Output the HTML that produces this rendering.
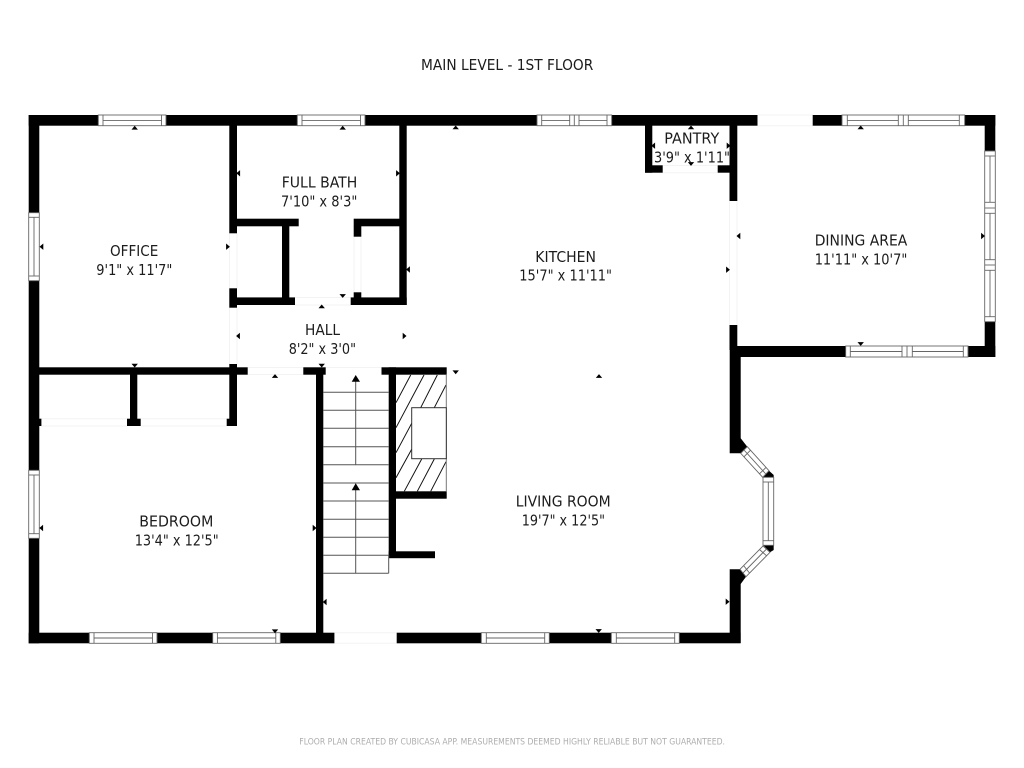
<!DOCTYPE html>
<html><head><meta charset="utf-8"><style>
html,body{margin:0;padding:0;background:#fff;width:1024px;height:768px;overflow:hidden}
svg{display:block}
text{font-family:"DejaVu Sans","Liberation Sans",sans-serif;font-size:15px;fill:#1c1c1c;}
.w rect{fill:#fff;stroke:#666;stroke-width:.9}
.w line{stroke:#666;stroke-width:.9}
.gap{stroke:#f3f3f3;stroke-width:1;fill:none}
</style></head><body>
<svg width="1024" height="768" viewBox="0 0 1024 768" xmlns="http://www.w3.org/2000/svg">
<defs>
<polygon id="u" points="-3.2,1.6 3.2,1.6 0,-2.2" fill="#000"/>
<polygon id="d" points="-3.2,-1.6 3.2,-1.6 0,2.2" fill="#000"/>
<polygon id="l" points="1.6,-3.2 1.6,3.2 -2.2,0" fill="#000"/>
<polygon id="r" points="-1.6,-3.2 -1.6,3.2 2.2,0" fill="#000"/>
</defs>
<rect width="1024" height="768" fill="#fff"/>

<!-- door gap lines -->
<g class="gap">
<path d="M229.5 233.5V288.5M237 233.5V288.5"/>
<path d="M229.5 307.5V364.5M237 307.5V364.5"/>
<path d="M295 297.5H351M295 305H351"/>
<path d="M354 236.5V292.5M361 236.5V292.5"/>
<path d="M247.5 367.5H303.5M247.5 374.5H303.5"/>
<path d="M325.5 367.5H381.5"/>
<path d="M41 418.7H127M41 426H127M141 418.7H227M141 426H227"/>
<path d="M662.5 165.5H717.5M662.5 172.7H717.5"/>
<path d="M729.5 201V325M737 201V325"/>
<path d="M757.5 115H813M757.5 125.7H813"/>
<path d="M334.5 632.7H396.7M334.5 643.3H396.7"/>
</g>

<!-- walls -->
<g fill="#000">
<rect x="28.7" y="115" width="728.8" height="10.7"/>
<rect x="812.7" y="115" width="182.6" height="10.7"/>
<rect x="28.7" y="115" width="10.6" height="528.3"/>
<rect x="28.7" y="632.7" width="305.7" height="10.6"/>
<rect x="396.7" y="632.7" width="343.9" height="10.6"/>
<rect x="984.7" y="115" width="10.6" height="242"/>
<rect x="730" y="346" width="265.3" height="11"/>
<rect x="729.5" y="115" width="7.8" height="86"/>
<rect x="729.5" y="325" width="7.8" height="25"/>
<polygon points="729.7,346 740.7,346 740.7,438.3 747.3,446.7 740.7,453.3 729.7,453.3"/>
<polygon points="729.7,569.3 740.7,569.3 746,576.7 740.7,584 740.7,643 729.7,643"/>
<polygon points="769,470.7 773.7,475 773.7,478 762.7,478"/>
<polygon points="763,545 773.7,545 773.7,550 770,552.3"/>
<!-- office/bath partition -->
<rect x="229.3" y="125" width="7.7" height="108.3"/>
<rect x="229.3" y="288.3" width="7.7" height="19.4"/>
<rect x="229.3" y="364" width="7.7" height="62"/>
<rect x="226.7" y="418.7" width="10.3" height="7.3"/>
<rect x="237" y="218.7" width="61.7" height="7.6"/>
<rect x="282" y="226" width="7.3" height="74"/>
<rect x="237" y="297.4" width="58" height="7.6"/>
<rect x="353.7" y="218.7" width="50" height="7.6"/>
<rect x="353.7" y="226" width="7.6" height="10.7"/>
<rect x="353.7" y="292.3" width="7.6" height="12.7"/>
<rect x="350.7" y="297.4" width="56" height="7.6"/>
<rect x="399.3" y="125" width="7.4" height="180"/>
<!-- hall bottom -->
<rect x="39" y="367.3" width="208.7" height="7.4"/>
<rect x="303.3" y="367.3" width="22.4" height="7.4"/>
<rect x="381.5" y="367.3" width="65.2" height="7.4"/>
<rect x="130" y="374" width="7.3" height="45"/>
<rect x="127" y="418.7" width="13.7" height="7.3"/>
<rect x="39" y="418.7" width="2.4" height="7.3"/>
<!-- stair walls -->
<rect x="316" y="374" width="7.3" height="259"/>
<rect x="388.7" y="367.3" width="7.3" height="190.7"/>
<rect x="388.7" y="551.3" width="46.3" height="6.9"/>
<rect x="396" y="491.3" width="50.7" height="7.4"/>
<!-- pantry -->
<rect x="645" y="125" width="7.3" height="47.7"/>
<rect x="645" y="165.3" width="17.7" height="7.4"/>
<rect x="717.7" y="165.3" width="12" height="7.4"/>
</g>

<!-- stairs -->
<g stroke="#555" stroke-width="1" fill="none">
<path d="M323 392.3H388.7M323 410.3H388.7M323 428.3H388.7M323 446.7H388.7M323 464.7H388.7M323 483H388.7M323 501H388.7M323 519.3H388.7M323 537.3H388.7M323 555.3H388.7M323 573.3H388.7M388.7 555V573.3"/>
<path d="M355.7 381V464.7M355.7 490V573.3"/>
</g>
<polygon points="351.7,381.7 360,381.7 355.7,375" fill="#000"/>
<polygon points="351.7,490.3 360,490.3 355.7,483.3" fill="#000"/>

<!-- fireplace -->
<g stroke="#111" stroke-width="1" fill="none">
<path d="M396 402.7L410.7 375M396 427.7L424 375M420.7 407.7L437.3 375M434.3 407.7L446 385M396 452.7L411.7 423.3M396 477.7L411.7 449.3M404.3 491.3L421.7 459M417.3 491.3L434.3 459M430.7 491.3L446 461.7"/>
</g>
<path d="M446.3 374.7V491.3" stroke="#777" stroke-width="1" fill="none"/>
<rect x="411.7" y="407.7" width="34.6" height="51" fill="#fff" stroke="#333" stroke-width="1"/>

<!-- windows -->
<g class="w">
<!-- top -->
<rect x="98.3" y="115" width="67.7" height="10.7"/><line x1="103" y1="115" x2="103" y2="125.7"/><line x1="161.5" y1="115" x2="161.5" y2="125.7"/><line x1="103" y1="120.4" x2="161.5" y2="120.4"/>
<rect x="297.3" y="115" width="67.7" height="10.7"/><line x1="302" y1="115" x2="302" y2="125.7"/><line x1="360.5" y1="115" x2="360.5" y2="125.7"/><line x1="302" y1="120.4" x2="360.5" y2="120.4"/>
<rect x="537" y="115" width="74.7" height="10.7"/><line x1="541.7" y1="115" x2="541.7" y2="125.7"/><line x1="569.7" y1="115" x2="569.7" y2="125.7"/><line x1="574.3" y1="115" x2="574.3" y2="125.7"/><line x1="579" y1="115" x2="579" y2="125.7"/><line x1="607" y1="115" x2="607" y2="125.7"/><line x1="541.7" y1="120.4" x2="569.7" y2="120.4"/><line x1="579" y1="120.4" x2="607" y2="120.4"/>
<rect x="842" y="115" width="122.7" height="10.7"/><line x1="847.3" y1="115" x2="847.3" y2="125.7"/><line x1="898.3" y1="115" x2="898.3" y2="125.7"/><line x1="903.3" y1="115" x2="903.3" y2="125.7"/><line x1="908.3" y1="115" x2="908.3" y2="125.7"/><line x1="959.3" y1="115" x2="959.3" y2="125.7"/><line x1="847.3" y1="120.4" x2="898.3" y2="120.4"/><line x1="908.3" y1="120.4" x2="959.3" y2="120.4"/>
<!-- dining bottom -->
<rect x="845.7" y="346" width="122.3" height="11"/><line x1="850.3" y1="346" x2="850.3" y2="357"/><line x1="902" y1="346" x2="902" y2="357"/><line x1="907" y1="346" x2="907" y2="357"/><line x1="912.3" y1="346" x2="912.3" y2="357"/><line x1="963.3" y1="346" x2="963.3" y2="357"/><line x1="850.3" y1="351.5" x2="902" y2="351.5"/><line x1="912.3" y1="351.5" x2="963.3" y2="351.5"/>
<!-- dining right -->
<rect x="984.7" y="151" width="10.6" height="170.7"/><line x1="984.7" y1="156" x2="995.3" y2="156"/><line x1="984.7" y1="202.3" x2="995.3" y2="202.3"/><line x1="984.7" y1="208" x2="995.3" y2="208"/><line x1="984.7" y1="213.3" x2="995.3" y2="213.3"/><line x1="984.7" y1="259.7" x2="995.3" y2="259.7"/><line x1="984.7" y1="265" x2="995.3" y2="265"/><line x1="984.7" y1="270.3" x2="995.3" y2="270.3"/><line x1="984.7" y1="316.7" x2="995.3" y2="316.7"/><line x1="990" y1="156" x2="990" y2="202.3"/><line x1="990" y1="213.3" x2="990" y2="259.7"/><line x1="990" y1="270.3" x2="990" y2="316.7"/>
<!-- left -->
<rect x="28.7" y="212.7" width="10.6" height="68"/><line x1="28.7" y1="217.3" x2="39.3" y2="217.3"/><line x1="28.7" y1="276" x2="39.3" y2="276"/><line x1="34" y1="217.3" x2="34" y2="276"/>
<rect x="28.7" y="470.3" width="10.6" height="68"/><line x1="28.7" y1="475" x2="39.3" y2="475"/><line x1="28.7" y1="533.7" x2="39.3" y2="533.7"/><line x1="34" y1="475" x2="34" y2="533.7"/>
<!-- bottom -->
<rect x="89.3" y="632.7" width="67.7" height="10.6"/><line x1="94" y1="632.7" x2="94" y2="643.3"/><line x1="152.5" y1="632.7" x2="152.5" y2="643.3"/><line x1="94" y1="638" x2="152.5" y2="638"/>
<rect x="212.7" y="632.7" width="67.6" height="10.6"/><line x1="217.4" y1="632.7" x2="217.4" y2="643.3"/><line x1="275.8" y1="632.7" x2="275.8" y2="643.3"/><line x1="217.4" y1="638" x2="275.8" y2="638"/>
<rect x="481.3" y="632.7" width="68" height="10.6"/><line x1="486.3" y1="632.7" x2="486.3" y2="643.3"/><line x1="544.7" y1="632.7" x2="544.7" y2="643.3"/><line x1="486.3" y1="638" x2="544.7" y2="638"/>
<rect x="611.3" y="632.7" width="68" height="10.6"/><line x1="616.3" y1="632.7" x2="616.3" y2="643.3"/><line x1="674.7" y1="632.7" x2="674.7" y2="643.3"/><line x1="616.3" y1="638" x2="674.7" y2="638"/>
<!-- bay -->
<polygon points="747.3,446.7 769,470.7 762.7,477.3 740.7,453.3" fill="#fff" stroke="#666" stroke-width=".9"/>
<line x1="744" y1="450" x2="765.8" y2="474"/>
<line x1="750.5" y1="450.2" x2="744" y2="456.8"/><line x1="766" y1="467.4" x2="759.5" y2="473.8"/>
<rect x="763" y="477.3" width="10.7" height="68"/><line x1="763" y1="482" x2="773.7" y2="482"/><line x1="763" y1="540.7" x2="773.7" y2="540.7"/><line x1="768.3" y1="482" x2="768.3" y2="540.7"/>
<polygon points="763,546 770,552.3 746,576.7 740,569.3" fill="#fff" stroke="#666" stroke-width=".9"/>
<line x1="766.5" y1="549" x2="743" y2="573"/>
<line x1="759.5" y1="549.5" x2="766.5" y2="555.7"/><line x1="743.5" y1="565.5" x2="749.5" y2="573"/>
</g>

<!-- arrow ticks -->
<use href="#u" x="134.7" y="128"/><use href="#l" x="41.7" y="246.7"/><use href="#r" x="227.7" y="246.7"/>
<use href="#u" x="342.7" y="128"/><use href="#l" x="238.5" y="173.3"/><use href="#r" x="397.7" y="173.3"/>
<use href="#l" x="408.3" y="269.5"/><use href="#d" x="342.7" y="295.7"/><use href="#u" x="321.7" y="306.7"/>
<use href="#l" x="238.3" y="336"/><use href="#r" x="404.3" y="336"/><use href="#d" x="134.7" y="365.3"/>
<use href="#d" x="321.7" y="365.3"/><use href="#u" x="275" y="376.3"/>
<use href="#u" x="455.7" y="127.7"/><use href="#u" x="691" y="127.7"/><use href="#l" x="653.5" y="145.7"/>
<use href="#r" x="728.3" y="145.7"/><use href="#d" x="691" y="163.7"/><use href="#r" x="727.7" y="269.7"/>
<use href="#l" x="738.7" y="236"/><use href="#d" x="455.7" y="372"/><use href="#u" x="599" y="376.3"/>
<use href="#u" x="860.7" y="127.7"/><use href="#r" x="982.7" y="236"/><use href="#d" x="860.7" y="343.7"/>
<use href="#l" x="41.5" y="528"/><use href="#r" x="314.3" y="528"/><use href="#l" x="325" y="602"/>
<use href="#d" x="275" y="631"/><use href="#r" x="727.3" y="601.7"/><use href="#d" x="598.7" y="630.7"/>

<!-- labels -->
<text x="421" y="70" textLength="172.3" lengthAdjust="spacingAndGlyphs">MAIN LEVEL - 1ST FLOOR</text>
<text x="110" y="256" textLength="48.3" lengthAdjust="spacingAndGlyphs">OFFICE</text>
<text x="96.3" y="275" textLength="76" lengthAdjust="spacingAndGlyphs">9'1" x 11'7"</text>
<text x="281.7" y="187.7" textLength="75.6" lengthAdjust="spacingAndGlyphs">FULL BATH</text>
<text x="281" y="206.7" textLength="76.3" lengthAdjust="spacingAndGlyphs">7'10" x 8'3"</text>
<text x="305" y="335" textLength="35" lengthAdjust="spacingAndGlyphs">HALL</text>
<text x="288.7" y="354" textLength="67.3" lengthAdjust="spacingAndGlyphs">8'2" x 3'0"</text>
<text x="535.3" y="262" textLength="60.7" lengthAdjust="spacingAndGlyphs">KITCHEN</text>
<text x="519.3" y="280.7" textLength="92.7" lengthAdjust="spacingAndGlyphs">15'7" x 11'11"</text>
<text x="664.3" y="143.3" textLength="55" lengthAdjust="spacingAndGlyphs">PANTRY</text>
<text x="654" y="162.3" textLength="76" lengthAdjust="spacingAndGlyphs">3'9" x 1'11"</text>
<text x="814.7" y="245.7" textLength="92.6" lengthAdjust="spacingAndGlyphs">DINING AREA</text>
<text x="814.7" y="264.3" textLength="92.6" lengthAdjust="spacingAndGlyphs">11'11" x 10'7"</text>
<text x="139.3" y="526.3" textLength="74" lengthAdjust="spacingAndGlyphs">BEDROOM</text>
<text x="134.7" y="545.7" textLength="84" lengthAdjust="spacingAndGlyphs">13'4" x 12'5"</text>
<text x="515.7" y="506.7" textLength="95" lengthAdjust="spacingAndGlyphs">LIVING ROOM</text>
<text x="521.7" y="525.7" textLength="83.3" lengthAdjust="spacingAndGlyphs">19'7" x 12'5"</text>
<text x="299.3" y="744.7" textLength="425.7" lengthAdjust="spacingAndGlyphs" style="font-size:8.4px;fill:#adadad">FLOOR PLAN CREATED BY CUBICASA APP. MEASUREMENTS DEEMED HIGHLY RELIABLE BUT NOT GUARANTEED.</text>
</svg>
</body></html>
